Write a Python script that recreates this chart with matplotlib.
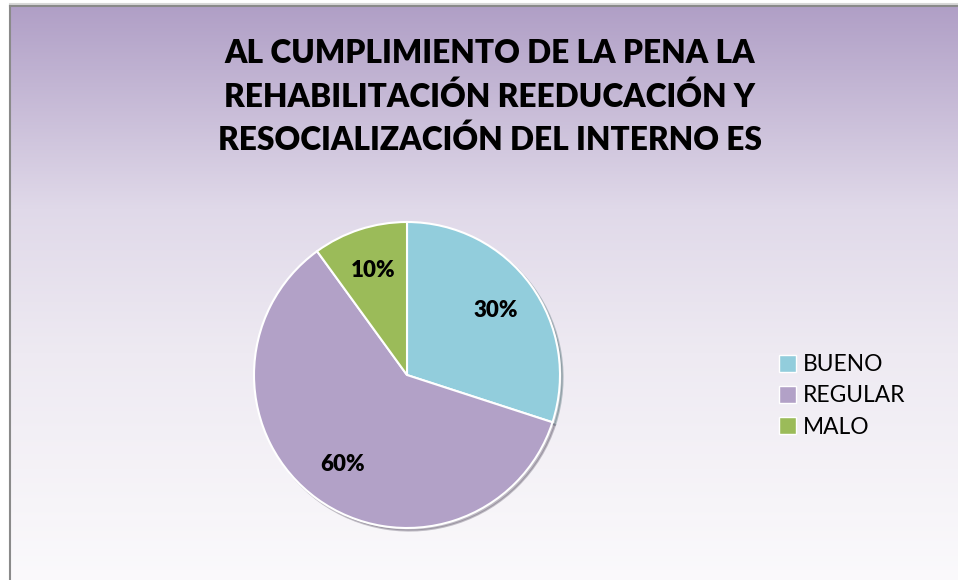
import matplotlib.pyplot as plt
import numpy as np
from matplotlib.patches import Patch

plt.rcParams['font.family'] = ['Lato', 'DejaVu Sans']

categories = ['BUENO', 'REGULAR', 'MALO']
values = [30, 60, 10]
colors = ['#92CDDC', '#B2A1C7', '#9BBB59']
title = 'AL CUMPLIMIENTO DE LA PENA LA\nREHABILITACIÓN REEDUCACIÓN Y\nRESOCIALIZACIÓN DEL INTERNO ES'

W, H = 958, 580
fig = plt.figure(figsize=(W / 100, H / 100), dpi=100)
fig.patch.set_facecolor('white')

# background gradient of the chart area
bg = fig.add_axes([0, 0, 1, 1])
bg.set_xlim(0, W)
bg.set_ylim(H, 0)
bg.axis('off')
stops = np.array([0.0, 0.35, 0.6, 1.0])
cols = np.array([[176, 159, 198], [224, 217, 233], [238, 234, 242], [251, 250, 252]]) / 255
t = np.linspace(0, 1, 400)
grad = np.stack([np.interp(t, stops, cols[:, i]) for i in range(3)], axis=1)
grad = grad[:, None, :]
bg.imshow(grad, extent=[10, W + 5, H + 5, 6], aspect='auto', zorder=0)
bg.plot([10, 10], [6, H + 5], color='#8a8a8a', lw=1.5, zorder=2)
bg.plot([10, W + 5], [6, 6], color='#8a8a8a', lw=1.5, zorder=2)
bg.plot([10, W + 5], [4, 4], color='#d8d8d8', lw=1.5, zorder=1)

fig.text(490 / W, 1 - 97 / H, title, ha='center', va='center', fontsize=22.8,
         fontweight='heavy', linespacing=1.5, color='black')

cx, cy, r = 407, 375, 153
ax = fig.add_axes([(cx - r) / W, (H - cy - r) / H, 2 * r / W, 2 * r / H])
wedges, texts, autotexts = ax.pie(values, colors=colors, startangle=90, counterclock=False,
                                  autopct='%1.0f%%', pctdistance=0.72,
                                  wedgeprops=dict(edgecolor='white', linewidth=1.5),
                                  shadow={'ox': 0.012, 'oy': -0.012, 'shade': 0.5, 'alpha': 0.35},
                                  textprops=dict(fontsize=16, fontweight='heavy', color='black'))
ax.set_xlim(-1.0, 1.0)
ax.set_ylim(-1.0, 1.0)
ax.set_aspect('equal')

handles = [Patch(facecolor=c, edgecolor='white', linewidth=1) for c in colors]
fig.legend(handles, categories, loc='center left', bbox_to_anchor=(758 / W, 1 - 396 / H),
           frameon=False, fontsize=16.4, handlelength=0.75, handleheight=0.75,
           handletextpad=0.3, labelspacing=0.45)

fig.savefig('out.png', dpi=100)
